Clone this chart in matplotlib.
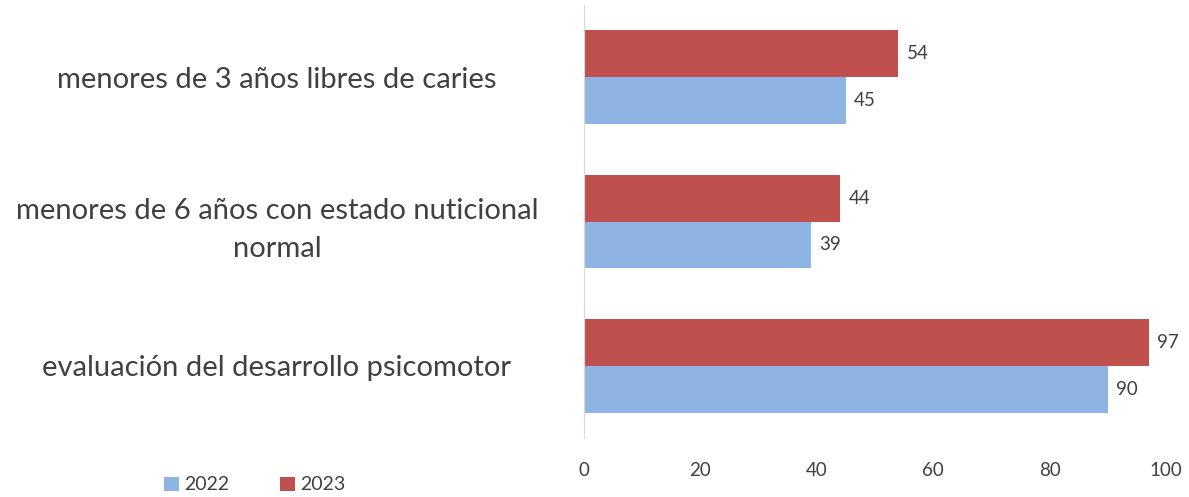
import matplotlib
matplotlib.use("Agg")
import matplotlib.pyplot as plt
import matplotlib.transforms as mtransforms
import numpy as np

categories = ["menores de 3 años libres de caries",
              "menores de 6 años con estado nuticional\nnormal",
              "evaluación del desarrollo psicomotor"]
series_names = ["2022", "2023"]
values_2022 = [45, 39, 90]
values_2023 = [54, 44, 97]
xticks = [0, 20, 40, 60, 80, 100]

blue = "#8DB4E2"
red = "#C0504D"
textc = "#404040"

plt.rcParams['font.family'] = ['Lato', 'DejaVu Sans']

fig = plt.figure(figsize=(11.89, 4.97), dpi=100)
W, H = 1189, 497
ax = fig.add_axes([584 / W, 1 - 438 / H, (1166 - 584) / W, (438 - 5) / H])

y = np.arange(len(categories))
h = 0.325
b1 = ax.barh(y + h / 2, values_2022, height=h, color=blue, label=series_names[0])
b2 = ax.barh(y - h / 2, values_2023, height=h, color=red, label=series_names[1])

for bars, vals in ((b1, values_2022), (b2, values_2023)):
    for rect, v in zip(bars, vals):
        ax.annotate(str(v), (rect.get_width(), rect.get_y() + rect.get_height() / 2),
                    xytext=(6, 0), textcoords="offset points", ha="left", va="center",
                    fontsize=13.5, color=textc)

ax.set_xlim(0, 100)
ax.set_ylim(2.5, -0.5)
ax.set_xticks(xticks)
ax.set_xticklabels([str(t) for t in xticks])
ax.tick_params(axis="x", length=0, labelsize=13.5, labelcolor=textc, pad=17)
ax.tick_params(axis="y", length=0, labelleft=False)
for s in ["top", "right", "bottom"]:
    ax.spines[s].set_visible(False)
ax.spines["left"].set_color("#D9D9D9")

trans = mtransforms.blended_transform_factory(fig.transFigure, ax.transData)
for yi, cat in zip(y, categories):
    ax.text(277 / W, yi, cat, transform=trans, ha="center", va="center_baseline",
            fontsize=21, color=textc, linespacing=1.55)

handles = [b1, b2]
fig.legend(handles, series_names, loc="center", bbox_to_anchor=(255 / W, 1 - 485 / H),
           ncol=2, frameon=False, fontsize=14, handlelength=0.75, handleheight=0.75,
           columnspacing=2.6, handletextpad=0.3, labelcolor=textc)

fig.savefig("out.png", dpi=100)
